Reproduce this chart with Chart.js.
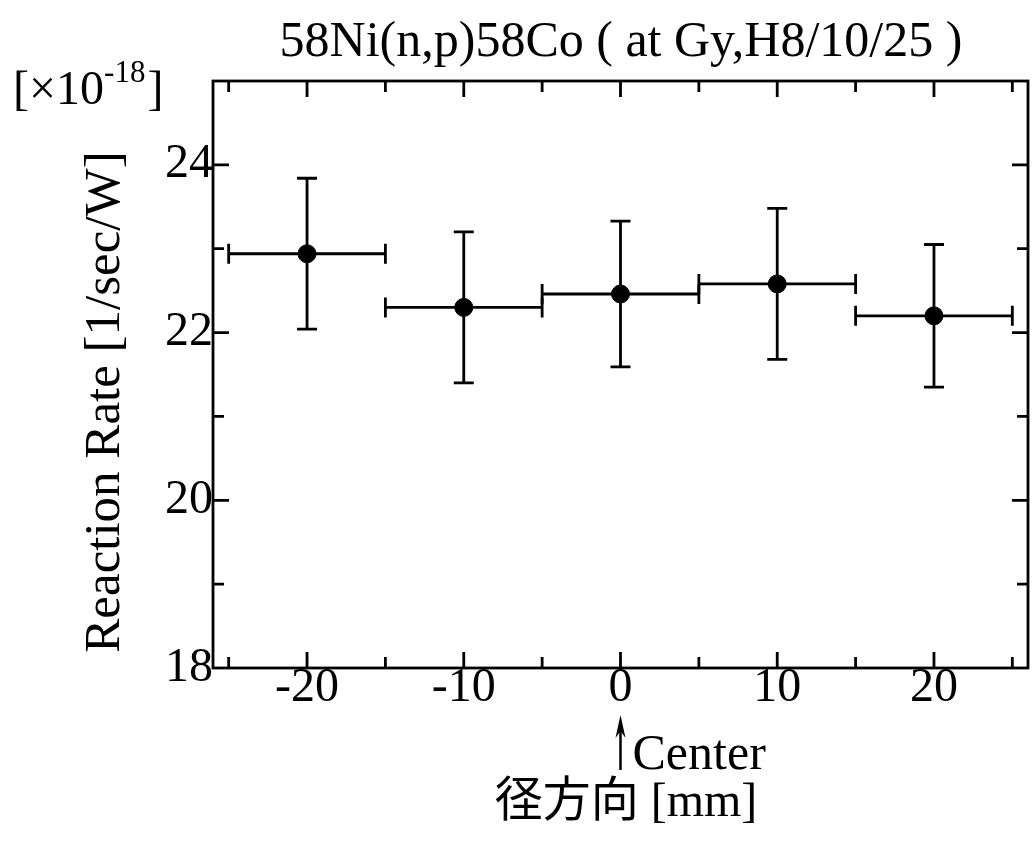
<!DOCTYPE html>
<html>
<head>
<meta charset="utf-8">
<script src="https://cdn.jsdelivr.net/npm/chart.js@4/dist/chart.umd.min.js"></script>
<style>
html,body{margin:0;padding:0;background:#fff;}
#wrap{width:1032px;height:847px;}
canvas{display:block;}
</style>
</head>
<body>
<div id="wrap"><canvas id="c" width="1032" height="847"></canvas></div>
<script>
// ---- data ----
const positions = [-20, -10, 0, 10, 20];          // radial position [mm]
const rates = [22.94, 22.30, 22.46, 22.58, 22.20]; // reaction rate [x1e-18 1/sec/W]
const rateErr = [0.90, 0.90, 0.87, 0.90, 0.85];
const posErr = [5, 5, 5, 5, 5];
const xTickVals = [-20, -10, 0, 10, 20];
const yTickVals = [18, 20, 22, 24];
const xMarkVals = [-25, -20, -15, -10, -5, 0, 5, 10, 15, 20, 25];
const yMarkVals = [19, 20, 21, 22, 23, 24];
const titleText = '58Ni(n,p)58Co ( at Gy,H8/10/25 )';
const yTitle = 'Reaction Rate [1/sec/W]';
const xTitle = '径方向 [mm]';

const SERIF = '"Liberation Serif", "Times New Roman", serif';
const PLOT_RIGHT = 1028;

const decor = {
  id: 'decor',
  afterLayout(chart) {
    const xs = chart.scales.x;
    chart.chartArea.right = PLOT_RIGHT;
    chart.chartArea.width = PLOT_RIGHT - chart.chartArea.left;
    xs.right = PLOT_RIGHT;
    xs.width = xs.right - xs.left;
    xs.configure();
  },
  beforeDatasetsDraw(chart) {
    const ctx = chart.ctx, xs = chart.scales.x, ys = chart.scales.y;
    ctx.save();
    ctx.strokeStyle = '#000';
    ctx.lineWidth = 2.8;
    ctx.lineCap = 'butt';
    for (let i = 0; i < positions.length; i++) {
      const px = xs.getPixelForValue(positions[i]);
      const py = ys.getPixelForValue(rates[i]);
      const yTop = ys.getPixelForValue(rates[i] + rateErr[i]);
      const yBot = ys.getPixelForValue(rates[i] - rateErr[i]);
      const xL = xs.getPixelForValue(positions[i] - posErr[i]);
      const xR = xs.getPixelForValue(positions[i] + posErr[i]);
      ctx.beginPath();
      ctx.moveTo(px, yTop); ctx.lineTo(px, yBot);
      ctx.moveTo(px - 10, yTop); ctx.lineTo(px + 10, yTop);
      ctx.moveTo(px - 10, yBot); ctx.lineTo(px + 10, yBot);
      ctx.moveTo(xL, py); ctx.lineTo(xR, py);
      ctx.moveTo(xL, py - 10); ctx.lineTo(xL, py + 10);
      ctx.moveTo(xR, py - 10); ctx.lineTo(xR, py + 10);
      ctx.stroke();
    }
    ctx.restore();
  },
  afterDraw(chart) {
    const ctx = chart.ctx, a = chart.chartArea, xs = chart.scales.x, ys = chart.scales.y;
    ctx.save();
    ctx.strokeStyle = '#000';
    ctx.fillStyle = '#000';
    ctx.lineWidth = 2.8;
    ctx.strokeRect(a.left, a.top, a.right - a.left, a.bottom - a.top);
    ctx.beginPath();
    xMarkVals.forEach(v => {
      const p = xs.getPixelForValue(v);
      const L = (v % 10 === 0) ? 16 : 11;
      ctx.moveTo(p, a.bottom); ctx.lineTo(p, a.bottom - L);
      ctx.moveTo(p, a.top); ctx.lineTo(p, a.top + L);
    });
    yMarkVals.forEach(v => {
      const p = ys.getPixelForValue(v);
      const L = (v % 2 === 0) ? 16 : 11;
      ctx.moveTo(a.left, p); ctx.lineTo(a.left + L, p);
      ctx.moveTo(a.right, p); ctx.lineTo(a.right - L, p);
    });
    ctx.stroke();

    // title
    ctx.textAlign = 'center';
    ctx.textBaseline = 'alphabetic';
    ctx.font = '50px ' + SERIF;
    ctx.fillText(titleText, 621, 56);

    // y title
    ctx.save();
    ctx.translate(119, 402);
    ctx.rotate(-Math.PI / 2);
    ctx.font = '51px ' + SERIF;
    ctx.fillText(yTitle, 0, 0);
    ctx.restore();

    // multiplier
    ctx.textAlign = 'left';
    ctx.font = '48px ' + SERIF;
    let x0 = 13;
    ctx.fillText('[\u00d710', x0, 104);
    x0 += ctx.measureText('[\u00d710').width;
    ctx.font = '31px ' + SERIF;
    ctx.fillText('-18', x0, 82);
    x0 += ctx.measureText('-18').width + 2;
    ctx.font = '48px ' + SERIF;
    ctx.fillText(']', x0, 104);

    // center arrow
    const cx = xs.getPixelForValue(0);
    ctx.lineWidth = 2.5;
    ctx.beginPath();
    ctx.moveTo(cx, 722); ctx.lineTo(cx, 770);
    ctx.stroke();
    ctx.beginPath();
    ctx.moveTo(cx, 715); ctx.lineTo(cx - 5, 738); ctx.lineTo(cx, 731); ctx.lineTo(cx + 5, 738); ctx.closePath();
    ctx.fill();
    ctx.font = '50px ' + SERIF;
    ctx.fillText('Center', cx + 12, 769);

    // x title
    ctx.textAlign = 'center';
    ctx.font = '48px "Liberation Serif", "Noto Sans CJK JP", serif';
    ctx.fillText(xTitle, 626, 816);
    ctx.restore();
  }
};

new Chart(document.getElementById('c'), {
  type: 'scatter',
  data: {
    datasets: [{
      data: positions.map((p, i) => ({x: p, y: rates[i]})),
      backgroundColor: '#000',
      borderColor: '#000',
      pointRadius: 9,
      pointHoverRadius: 9,
      showLine: false
    }]
  },
  options: {
    responsive: false,
    animation: false,
    devicePixelRatio: 1,
    events: [],
    layout: {padding: {top: 81, right: 3, left: 0, bottom: 0}},
    plugins: {legend: {display: false}, tooltip: {enabled: false}, title: {display: false}},
    scales: {
      x: {
        type: 'linear', min: -26, max: 26,
        grid: {display: false}, border: {display: false},
        ticks: {color: '#000', font: {family: SERIF, size: 48}, padding: -16, maxRotation: 0, autoSkip: false,
                callback: v => String(v)},
        afterBuildTicks: s => { s.ticks = xTickVals.map(v => ({value: v})); },
        afterFit: s => { s.height = 179; s.paddingLeft = 0; s.paddingRight = 0; }
      },
      y: {
        type: 'linear', min: 18, max: 25,
        grid: {display: false}, border: {display: false},
        ticks: {color: '#000', font: {family: SERIF, size: 48}, padding: -8, autoSkip: false,
                callback: v => String(v)},
        afterBuildTicks: s => { s.ticks = yTickVals.map(v => ({value: v})); },
        afterFit: s => { s.width = 213; }
      }
    }
  },
  plugins: [decor]
});
</script>
</body>
</html>
